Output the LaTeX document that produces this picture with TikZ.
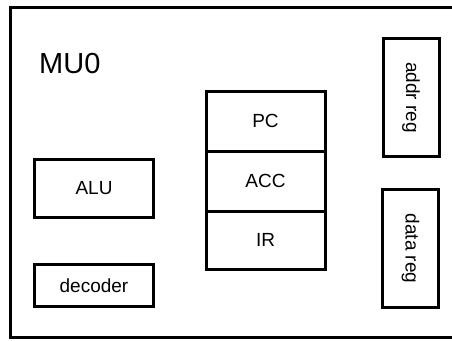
\documentclass[tikz,border=0pt]{standalone}
\usepackage{fontspec}
\setmainfont{Liberation Sans}
\begin{document}
\begin{tikzpicture}[x=1pt,y=-1pt,
  blk/.style={draw=black,line width=3pt,rectangle,inner sep=0pt,font=\fontsize{19}{22}\selectfont},
  outer/.style={draw=black,line width=2.5pt}]
\useasboundingbox (0,0) rectangle (452,340);
% outer frame (open at the right)
\coordinate (otr) at (452,7.5);
\coordinate (otl) at (10.5,7.5);
\coordinate (obl) at (10.5,337.5);
\coordinate (obr) at (452,337.5);
\draw[outer] (otr) -- (otl) -- (obl) -- (obr);
\node[anchor=base west,inner sep=0pt,font=\fontsize{29}{34}\selectfont] (mu0) at (39,73) {MU0};
% registers column
\node[blk,minimum width=119pt,minimum height=60pt] (pc) at (265.5,121) {PC};
\node[blk,minimum width=119pt,minimum height=60pt] (acc) at (265.5,181) {ACC};
\node[blk,minimum width=119pt,minimum height=58pt] (ir) at (265.5,240) {IR};
% left blocks
\node[blk,minimum width=119pt,minimum height=58pt] (alu) at (94,188.5) {ALU};
\node[blk,minimum width=119pt,minimum height=42pt] (dec) at (94,285.5) {decoder};
% right blocks
\node[blk,minimum width=56pt,minimum height=118pt] (addr) at (411,97.5) {};
\node[rotate=-90,font=\fontsize{19}{22}\selectfont] (addrt) at (addr.center) {addr reg};
\node[blk,minimum width=56pt,minimum height=118pt] (data) at (410.5,248.5) {};
\node[rotate=-90,font=\fontsize{19}{22}\selectfont] (datat) at (data.center) {data reg};
\end{tikzpicture}
\end{document}
